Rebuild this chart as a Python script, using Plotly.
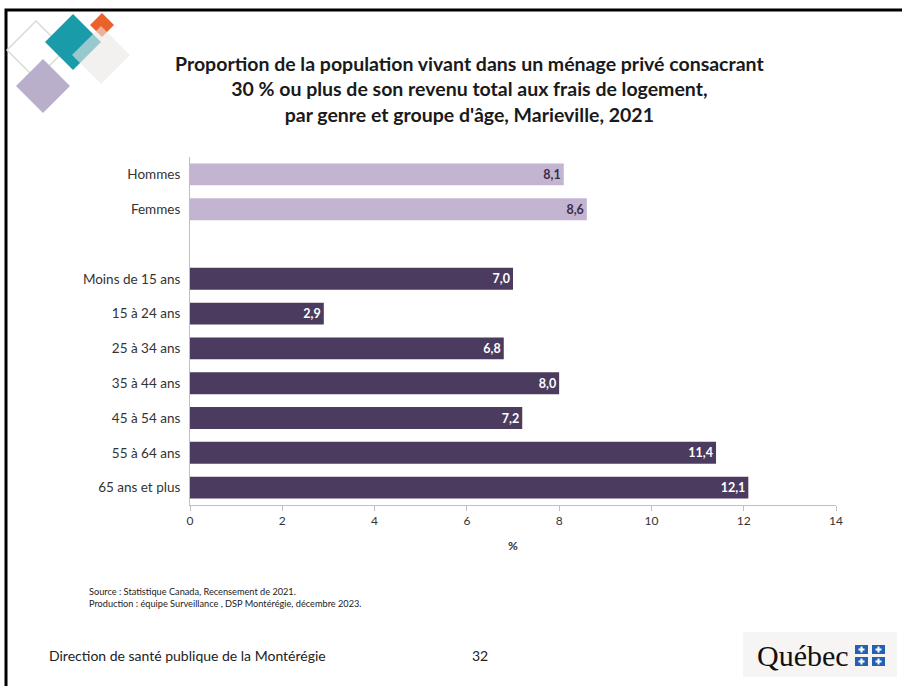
import plotly.graph_objects as go

categories = ["Hommes", "Femmes", " ", "Moins de 15 ans", "15 à 24 ans", "25 à 34 ans",
              "35 à 44 ans", "45 à 54 ans", "55 à 64 ans", "65 ans et plus"]
values = [8.1, 8.6, None, 7.0, 2.9, 6.8, 8.0, 7.2, 11.4, 12.1]
groups = ["genre", "genre", "", "age", "age", "age", "age", "age", "age", "age"]
x_ticks = [0, 2, 4, 6, 8, 10, 12, 14]

LIGHT = "#C3B4D2"
DARK = "#4B3B5F"
bar_colors = [LIGHT if g == "genre" else DARK for g in groups]
text_colors = ["#3A2D4A" if g == "genre" else "#FFFFFF" for g in groups]

W, H = 902, 686
ML, MR, MT, MB = 190, 66, 157, 181
PW, PH = W - ML - MR, H - MT - MB

def px(x):
    return (x - ML) / PW

def py(y):
    return 1 - (y - MT) / PH

FONT = "Lato"

fig = go.Figure()
fig.add_trace(go.Bar(
    y=categories, x=values, orientation="h",
    marker=dict(color=bar_colors, line=dict(width=0)),
    width=0.63,
    texttemplate="%{x:.1f}", textposition="inside", insidetextanchor="end",
    textfont=dict(family=FONT, size=12.5, color=text_colors, weight="bold"),
    hoverinfo="skip",
))

shapes = []
# slide border
shapes.append(dict(type="rect", xref="paper", yref="paper",
                   x0=px(6), x1=px(920), y0=py(10), y1=py(720),
                   line=dict(color="black", width=3), fillcolor="rgba(0,0,0,0)"))

def diamond(cx, cy, r, fill, line_color=None, lw=0):
    path = (f"M {px(cx - r)} {py(cy)} L {px(cx)} {py(cy - r)} "
            f"L {px(cx + r)} {py(cy)} L {px(cx)} {py(cy + r)} Z")
    return dict(type="path", xref="paper", yref="paper", path=path,
                fillcolor=fill, line=dict(color=line_color or "rgba(0,0,0,0)", width=lw))

shapes.append(diamond(36, 50, 29, "rgba(0,0,0,0)", "#D8DDD2", 1.5))
shapes.append(diamond(73, 42, 28, "#1A9BAA"))
shapes.append(diamond(102, 25, 12, "#E8622A"))
shapes.append(diamond(101, 55, 29, "rgba(235,232,230,0.6)"))
shapes.append(diamond(43, 86, 27, "#B9AFCB"))

# Québec logo background and flag squares
shapes.append(dict(type="rect", xref="paper", yref="paper",
                   x0=px(743), x1=px(897), y0=py(632), y1=py(677),
                   fillcolor="#F7F5F4", line=dict(width=0), layer="below"))
for sx in (855, 872):
    for sy in (645, 657):
        shapes.append(dict(type="rect", xref="paper", yref="paper",
                           x0=px(sx), x1=px(sx + 13), y0=py(sy), y1=py(sy + 9),
                           fillcolor="#2461B0", line=dict(width=0)))
        shapes.append(dict(type="rect", xref="paper", yref="paper",
                           x0=px(sx + 5.5), x1=px(sx + 7.5), y0=py(sy + 1.5), y1=py(sy + 7.5),
                           fillcolor="white", line=dict(width=0)))
        shapes.append(dict(type="rect", xref="paper", yref="paper",
                           x0=px(sx + 3.5), x1=px(sx + 9.5), y0=py(sy + 3.5), y1=py(sy + 5.5),
                           fillcolor="white", line=dict(width=0)))

annotations = [
    dict(text="Proportion de la population vivant dans un ménage privé consacrant<br>"
              "30 % ou plus de son revenu total aux frais de logement,<br>"
              "par genre et groupe d'âge, Marieville, 2021",
         xref="paper", yref="paper", x=px(469), y=py(89), xanchor="center", yanchor="middle",
         showarrow=False, font=dict(family=FONT, size=19.5, color="#1A1A1A", weight="bold"),
         align="center"),
    dict(text="%", xref="paper", yref="paper", x=px(513), y=py(545),
         xanchor="center", yanchor="middle", showarrow=False,
         font=dict(family=FONT, size=12, color="#333333", weight="bold")),
    dict(text="Source : Statistique Canada, Recensement de 2021.<br>"
              "Production : équipe Surveillance , DSP Montérégie, décembre 2023.",
         xref="paper", yref="paper", x=px(87), y=py(597), xanchor="left", yanchor="middle",
         showarrow=False, align="left", font=dict(family=FONT, size=9.2, color="#222222")),
    dict(text="Direction de santé publique de la Montérégie",
         xref="paper", yref="paper", x=px(47), y=py(655), xanchor="left", yanchor="middle",
         showarrow=False, font=dict(family=FONT, size=14, color="#222222")),
    dict(text="32", xref="paper", yref="paper", x=px(480), y=py(655), xanchor="center",
         yanchor="middle", showarrow=False, font=dict(family=FONT, size=14, color="#222222")),
    dict(text="Québec", xref="paper", yref="paper", x=px(803), y=py(655), xanchor="center",
         yanchor="middle", showarrow=False,
         font=dict(family="Liberation Serif", size=30, color="#111111")),
]

fig.update_layout(
    width=W, height=H,
    margin=dict(l=ML, r=MR, t=MT, b=MB, pad=0),
    paper_bgcolor="white", plot_bgcolor="white",
    separators=", ",
    showlegend=False,
    shapes=shapes, annotations=annotations,
    xaxis=dict(range=[0, 14], tickvals=x_ticks, showgrid=False, zeroline=False,
               showline=True, linecolor="#BFBFBF", linewidth=1,
               ticks="outside", ticklen=5, tickcolor="#BFBFBF",
               tickfont=dict(family=FONT, size=12, color="#333333"), fixedrange=True),
    yaxis=dict(categoryorder="array", categoryarray=categories, range=[9.5, -0.5],
               showgrid=False, zeroline=False, showline=True, linecolor="#BFBFBF",
               linewidth=1, ticks="", ticklabelstandoff=6,
               tickfont=dict(family=FONT, size=13.5, color="#333333"), fixedrange=True),
    font=dict(family=FONT),
)

fig.write_html("out.html", config={"displayModeBar": False},
               post_script="document.body.style.margin='0';document.body.style.overflow='hidden';")
